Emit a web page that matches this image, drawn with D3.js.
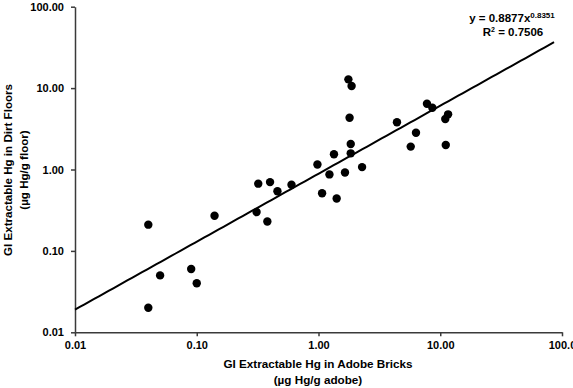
<!DOCTYPE html>
<html>
<head>
<meta charset="utf-8">
<script src="https://cdn.jsdelivr.net/npm/d3@7"></script>
<style>
  body { margin: 0; background: #fff; }
  .chart { width: 573px; height: 388px; }
  text { font-family: "Liberation Sans", Arial, sans-serif; font-weight: bold; fill: #000; }
</style>
</head>
<body>
<div class="chart"></div>
<script>
// data (µg Hg/g)
const brickHg = [0.04, 0.04, 0.05, 0.09, 0.10, 0.14, 0.31, 0.32, 0.38, 0.40, 0.46, 0.60,
  0.98, 1.07, 1.23, 1.34, 1.41, 1.65, 1.76, 1.87, 1.80, 1.84, 1.84, 2.28,
  4.41, 5.72, 6.32, 7.78, 8.61, 11.6, 11.0, 11.1];
const floorHg = [0.21, 0.02, 0.05, 0.06, 0.04, 0.27, 0.30, 0.67, 0.23, 0.70, 0.54, 0.65,
  1.15, 0.51, 0.87, 1.54, 0.44, 0.92, 12.8, 10.6, 4.33, 2.06, 1.58, 1.07,
  3.80, 1.91, 2.83, 6.43, 5.74, 4.76, 4.17, 2.00];

// power trendline y = a * x^b
const trendA = 0.8877;
const trendB = 0.8351;
const trendRange = [0.01, 86];

const xTicks = [0.01, 0.1, 1, 10, 100];
const xTickLabels = ["0.01", "0.10", "1.00", "10.00", "100.0"];
const yTicks = [0.01, 0.1, 1, 10, 100];
const yTickLabels = ["0.01", "0.10", "1.00", "10.00", "100.00"];

const W = 573, H = 388;
const margin = { top: 6.7, right: 11, bottom: 55.7, left: 75 };

const svg = d3.select(".chart")
  .append("svg")
  .attr("width", W)
  .attr("height", H);

const x = d3.scaleLog().domain([0.01, 100]).range([margin.left, W - margin.right]);
const y = d3.scaleLog().domain([0.01, 100]).range([H - margin.bottom, margin.top]);

const axisColor = "#3a3a3a";

// x axis
const gx = svg.append("g")
  .attr("transform", `translate(0,${H - margin.bottom})`)
  .call(d3.axisBottom(x)
    .tickValues(xTicks)
    .tickFormat((d, i) => xTickLabels[i])
    .tickSizeInner(4)
    .tickSizeOuter(0)
    .tickPadding(5));
gx.select(".domain").attr("stroke", axisColor).attr("stroke-width", 1.5);
gx.selectAll(".tick line").attr("stroke", axisColor).attr("stroke-width", 1.5);
gx.selectAll(".tick text")
  .style("font-size", "11px")
  .style("font-family", "'Liberation Sans', Arial, sans-serif")
  .style("font-weight", "bold")
  .attr("fill", "#000");

// y axis
const gy = svg.append("g")
  .attr("transform", `translate(${margin.left},0)`)
  .call(d3.axisLeft(y)
    .tickValues(yTicks)
    .tickFormat((d, i) => yTickLabels[i])
    .tickSizeInner(4)
    .tickSizeOuter(0)
    .tickPadding(7));
gy.select(".domain").attr("stroke", axisColor).attr("stroke-width", 1.5);
gy.selectAll(".tick line").attr("stroke", axisColor).attr("stroke-width", 1.5);
gy.selectAll(".tick text")
  .style("font-size", "11px")
  .style("font-family", "'Liberation Sans', Arial, sans-serif")
  .style("font-weight", "bold")
  .attr("fill", "#000");

// trendline
const trendPts = d3.range(0, 101).map(i => {
  const lx = Math.log10(trendRange[0]) + (Math.log10(trendRange[1]) - Math.log10(trendRange[0])) * i / 100;
  const xv = Math.pow(10, lx);
  return [xv, trendA * Math.pow(xv, trendB)];
});
svg.append("path")
  .datum(trendPts)
  .attr("fill", "none")
  .attr("stroke", "#000")
  .attr("stroke-width", 2)
  .attr("d", d3.line().x(d => x(d[0])).y(d => y(d[1])));

// points
svg.selectAll(".pt")
  .data(brickHg.map((b, i) => ({ b: b, f: floorHg[i] })))
  .join("circle")
  .attr("class", "pt")
  .attr("cx", d => x(d.b))
  .attr("cy", d => y(d.f))
  .attr("r", 4.2)
  .attr("fill", "#000");

// equation
const eq = svg.append("text")
  .attr("x", 512)
  .attr("y", 22)
  .attr("text-anchor", "middle")
  .style("font-size", "11.5px");
eq.append("tspan").text("y = " + trendA + "x");
eq.append("tspan").attr("dy", -4).style("font-size", "8px").text(trendB);

const r2 = svg.append("text")
  .attr("x", 513)
  .attr("y", 36)
  .attr("text-anchor", "middle")
  .style("font-size", "11.5px");
r2.append("tspan").text("R");
r2.append("tspan").attr("dy", -4).style("font-size", "7px").text("2");
r2.append("tspan").attr("dy", 4).text(" = 0.7506");

// axis titles
svg.append("text")
  .attr("x", 318)
  .attr("y", 368)
  .attr("text-anchor", "middle")
  .style("font-size", "11.7px")
  .text("GI Extractable Hg in Adobe Bricks");
svg.append("text")
  .attr("x", 318)
  .attr("y", 384)
  .attr("text-anchor", "middle")
  .style("font-size", "11.7px")
  .text("(µg Hg/g adobe)");

svg.append("text")
  .attr("transform", "translate(12,170) rotate(-90)")
  .attr("text-anchor", "middle")
  .style("font-size", "11.6px")
  .text("GI Extractable Hg in Dirt Floors");
svg.append("text")
  .attr("transform", "translate(28,170) rotate(-90)")
  .attr("text-anchor", "middle")
  .style("font-size", "11.6px")
  .text("(µg Hg/g floor)");
</script>
</body>
</html>
